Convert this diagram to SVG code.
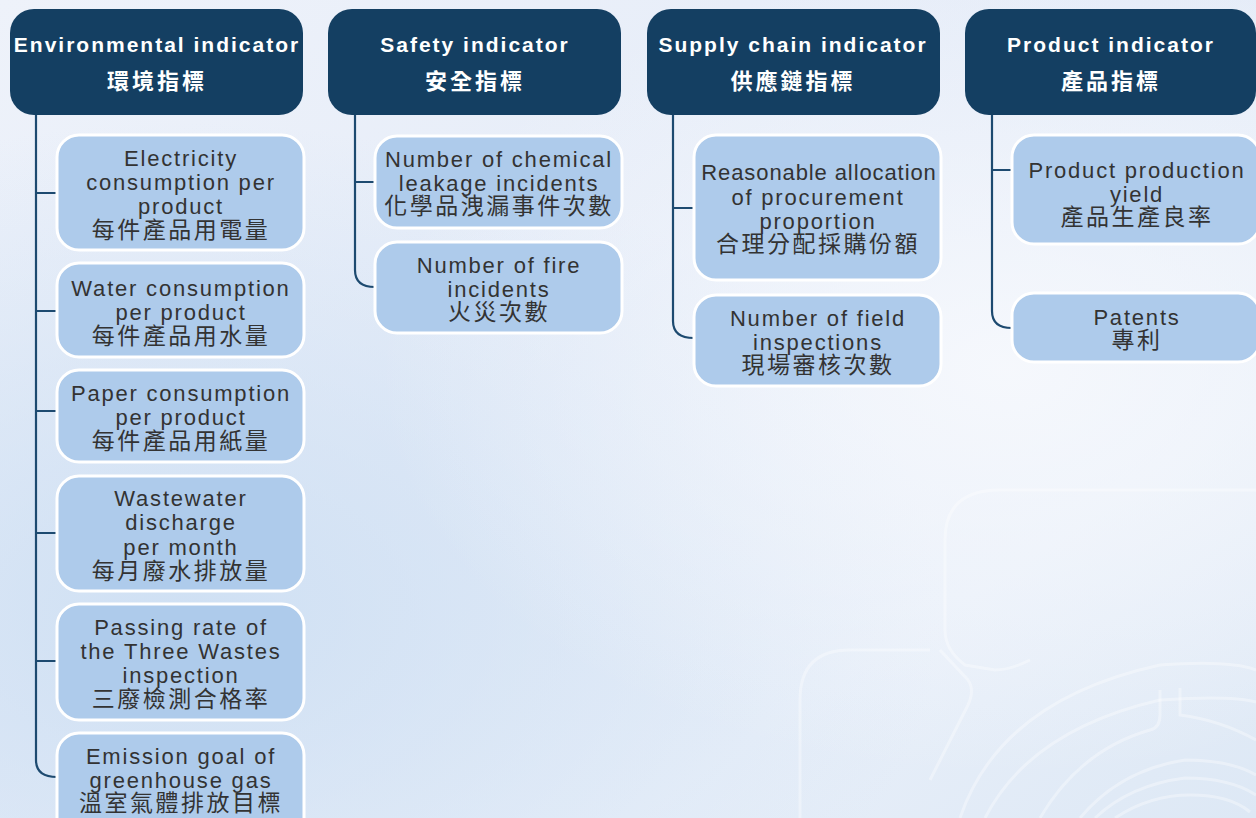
<svg xmlns="http://www.w3.org/2000/svg" width="1256" height="818" viewBox="0 0 1256 818">
<defs>
<linearGradient id="bg" x1="0" y1="0" x2="1" y2="1">
<stop offset="0" stop-color="#eef2fa"/>
<stop offset="0.45" stop-color="#e5ecf8"/>
<stop offset="0.75" stop-color="#e8eff9"/>
<stop offset="1" stop-color="#dde8f5"/>
</linearGradient>
<radialGradient id="glow" cx="0.15" cy="0.75" r="0.6">
<stop offset="0" stop-color="#cddff3" stop-opacity="0.9"/>
<stop offset="1" stop-color="#cddff3" stop-opacity="0"/>
</radialGradient>
<radialGradient id="glow2" cx="0.8" cy="0.45" r="0.5">
<stop offset="0" stop-color="#f7f9fd" stop-opacity="0.9"/>
<stop offset="1" stop-color="#f7f9fd" stop-opacity="0"/>
</radialGradient>
<style>
.hdr{fill:#143f62}
.box{fill:#aecbeb;stroke:#ffffff;stroke-width:3}
.ht{font-family:"Liberation Sans","Noto Sans CJK TC",sans-serif;font-weight:bold;fill:#ffffff;text-anchor:middle}
.he{font-size:21px;letter-spacing:2px}
.hc{font-size:22px;letter-spacing:3px}
.bt{font-family:"Liberation Sans","Noto Sans CJK TC",sans-serif;fill:#333333;text-anchor:middle}
.be{font-size:22px;letter-spacing:1.8px}
.bc{font-size:23px;letter-spacing:2.5px}
.con{fill:none;stroke:#1d4a70;stroke-width:2.2}
.deco{fill:none;stroke:#ffffff;stroke-opacity:0.35;stroke-width:3}
</style>
</defs>
<rect x="0" y="0" width="1256" height="818" fill="url(#bg)"/>
<rect x="0" y="0" width="1256" height="818" fill="url(#glow)"/>
<rect x="0" y="0" width="1256" height="818" fill="url(#glow2)"/>
<g id="decor">
<path class="deco" d="M1000 490 H1256 M1000 490 Q945 490 945 540 V630 Q945 650 965 665 L995 670 Q1010 670 1030 660" stroke-opacity="0.25"/>
<path class="deco" d="M940 650 L968 680 Q975 690 968 705 L930 780" stroke-opacity="0.25"/>
<path class="deco" d="M960 818 Q1000 700 1160 665 Q1230 660 1256 670"/>
<path class="deco" d="M985 818 Q1030 730 1160 700 Q1230 695 1256 702"/>
<path class="deco" d="M1040 818 Q1080 750 1150 730 Q1160 728 1160 715 V690" stroke-opacity="0.25"/>
<path class="deco" d="M1180 688 V715 Q1220 720 1256 740" stroke-opacity="0.25"/>
<path class="deco" d="M1080 818 Q1120 770 1185 760 Q1230 760 1256 775" stroke-width="6"/>
<path class="deco" d="M1095 818 Q1130 785 1185 778 Q1230 778 1256 795" stroke-width="6"/>
<path class="deco" d="M1115 818 Q1150 795 1190 795 Q1230 795 1250 812" stroke-width="6"/>
<path class="deco" d="M800 818 V700 Q800 650 850 650 H930" stroke-opacity="0.2"/>
</g>
<g id="connectors">
<path class="con" d="M36 114 V760 Q36 777 57 777 M36 193 H57 M36 311 H57 M36 411 H57 M36 533 H57 M36 661 H57"/>
<path class="con" d="M355 114 V270 Q355 287 375 287 M355 182 H375"/>
<path class="con" d="M673 114 V321 Q673 338 694 338 M673 208 H694"/>
<path class="con" d="M992 114 V311 Q992 328 1012 328 M992 170 H1012"/>
</g>
<g id="env-header">
<rect class="hdr" x="10" y="9" width="293" height="106" rx="24"/>
<text class="ht he" x="157" y="52">Environmental indicator</text>
<text class="ht hc" x="157" y="89">環境指標</text>
</g>
<g id="safety-header">
<rect class="hdr" x="328" y="9" width="293" height="106" rx="24"/>
<text class="ht he" x="475" y="52">Safety indicator</text>
<text class="ht hc" x="475" y="89">安全指標</text>
</g>
<g id="supply-header">
<rect class="hdr" x="647" y="9" width="293" height="106" rx="24"/>
<text class="ht he" x="793" y="52">Supply chain indicator</text>
<text class="ht hc" x="793" y="89">供應鏈指標</text>
</g>
<g id="product-header">
<rect class="hdr" x="965" y="9" width="291" height="106" rx="24"/>
<text class="ht he" x="1111" y="52">Product indicator</text>
<text class="ht hc" x="1111" y="89">產品指標</text>
</g>
<g id="env-electricity">
<rect class="box" x="57" y="135" width="247" height="115" rx="22"/>
<text class="bt"><tspan class="be" x="181" y="166">Electricity</tspan><tspan class="be" x="181" y="190">consumption per</tspan><tspan class="be" x="181" y="214">product</tspan><tspan class="bc" x="181" y="238">每件產品用電量</tspan></text>
</g>
<g id="env-water">
<rect class="box" x="57" y="263" width="247" height="94" rx="22"/>
<text class="bt"><tspan class="be" x="181" y="296">Water consumption</tspan><tspan class="be" x="181" y="320">per product</tspan><tspan class="bc" x="181" y="344">每件產品用水量</tspan></text>
</g>
<g id="env-paper">
<rect class="box" x="57" y="370" width="247" height="92" rx="22"/>
<text class="bt"><tspan class="be" x="181" y="401">Paper consumption</tspan><tspan class="be" x="181" y="425">per product</tspan><tspan class="bc" x="181" y="449">每件產品用紙量</tspan></text>
</g>
<g id="env-wastewater">
<rect class="box" x="57" y="476" width="247" height="115" rx="22"/>
<text class="bt"><tspan class="be" x="181" y="506">Wastewater</tspan><tspan class="be" x="181" y="530">discharge</tspan><tspan class="be" x="181" y="555">per month</tspan><tspan class="bc" x="181" y="579">每月廢水排放量</tspan></text>
</g>
<g id="env-passing">
<rect class="box" x="57" y="604" width="247" height="116" rx="22"/>
<text class="bt"><tspan class="be" x="181" y="635">Passing rate of</tspan><tspan class="be" x="181" y="659">the Three Wastes</tspan><tspan class="be" x="181" y="683">inspection</tspan><tspan class="bc" x="181" y="707">三廢檢測合格率</tspan></text>
</g>
<g id="env-emission">
<rect class="box" x="57" y="733" width="247" height="110" rx="22"/>
<text class="bt"><tspan class="be" x="181" y="764">Emission goal of</tspan><tspan class="be" x="181" y="788">greenhouse gas</tspan><tspan class="bc" x="181" y="811">溫室氣體排放目標</tspan></text>
</g>
<g id="safety-chemical">
<rect class="box" x="375" y="136" width="247" height="92" rx="22"/>
<text class="bt"><tspan class="be" x="499" y="167">Number of chemical</tspan><tspan class="be" x="499" y="191">leakage incidents</tspan><tspan class="bc" x="499" y="214">化學品洩漏事件次數</tspan></text>
</g>
<g id="safety-fire">
<rect class="box" x="375" y="242" width="247" height="91" rx="22"/>
<text class="bt"><tspan class="be" x="499" y="273">Number of fire</tspan><tspan class="be" x="499" y="297">incidents</tspan><tspan class="bc" x="499" y="320">火災次數</tspan></text>
</g>
<g id="supply-allocation">
<rect class="box" x="694" y="135" width="247" height="145" rx="22"/>
<text class="bt"><tspan class="be" x="819" y="180" style="letter-spacing:0.9px">Reasonable allocation</tspan><tspan class="be" x="818" y="205">of procurement</tspan><tspan class="be" x="818" y="229">proportion</tspan><tspan class="bc" x="818" y="252">合理分配採購份額</tspan></text>
</g>
<g id="supply-inspections">
<rect class="box" x="694" y="295" width="247" height="91" rx="22"/>
<text class="bt"><tspan class="be" x="818" y="326">Number of field</tspan><tspan class="be" x="818" y="350">inspections</tspan><tspan class="bc" x="818" y="373">現場審核次數</tspan></text>
</g>
<g id="product-yield">
<rect class="box" x="1012" y="135" width="248" height="109" rx="22"/>
<text class="bt"><tspan class="be" x="1137" y="178">Product production</tspan><tspan class="be" x="1137" y="202">yield</tspan><tspan class="bc" x="1137" y="225">產品生產良率</tspan></text>
</g>
<g id="product-patents">
<rect class="box" x="1012" y="293" width="248" height="69" rx="22"/>
<text class="bt"><tspan class="be" x="1137" y="325">Patents</tspan><tspan class="bc" x="1137" y="348">專利</tspan></text>
</g>
</svg>
